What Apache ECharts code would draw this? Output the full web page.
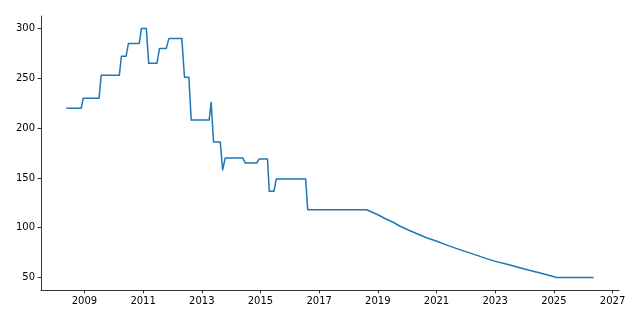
<!DOCTYPE html>
<html>
<head>
<meta charset="utf-8">
<script src="https://cdn.jsdelivr.net/npm/echarts@6/dist/echarts.min.js"></script>
<style>html,body{margin:0;padding:0;background:#fff}#c{width:640px;height:320px}</style>
</head>
<body>
<div id="c"></div>
<script>
// Decimal years and values
var years = [2008.41, 2008.89, 2008.96, 2009.50, 2009.57, 2010.19, 2010.26, 2010.42, 2010.50, 2010.87,
  2010.94, 2011.11, 2011.19, 2011.47, 2011.56, 2011.79, 2011.88, 2012.32, 2012.41, 2012.56,
  2012.64, 2013.25, 2013.32, 2013.40, 2013.63, 2013.71, 2013.80, 2014.40, 2014.48, 2014.88,
  2014.95, 2015.24, 2015.30, 2015.46, 2015.54, 2016.54, 2016.61, 2018.62,
  2019.00, 2019.26, 2019.52, 2019.76, 2020.02, 2020.34, 2020.66, 2021.01, 2021.40, 2021.79,
  2022.10, 2022.41, 2022.70, 2022.98, 2023.50, 2024.06, 2024.60, 2025.10, 2026.33];
var values = [220, 220, 230, 230, 253, 253, 272, 272, 285, 285,
  300, 300, 265, 265, 280, 280, 290, 290, 251, 251,
  208, 208, 226, 186, 186, 158, 170, 170, 165, 165,
  169, 169, 136.5, 136.5, 149, 149, 118, 118,
  113, 109, 105.5, 101.5, 98, 94, 90, 86.5, 82, 78,
  75, 72, 69, 66.5, 62.5, 58, 54, 50, 50];
var xTicks = [2009, 2011, 2013, 2015, 2017, 2019, 2021, 2023, 2025, 2027];
var yTicks = [50, 100, 150, 200, 250, 300];

var pts = years.map(function (y, i) { return [y, values[i]]; });
var font = { fontFamily: 'DejaVu Sans', fontSize: 10, color: '#000' };
var axisLine = { show: true, onZero: false, lineStyle: { color: '#000', width: 0.8 } };

var chart = echarts.init(document.getElementById('c'), null, { renderer: 'canvas' });
chart.setOption({
  animation: false,
  backgroundColor: '#fff',
  grid: { left: 41, right: 21, top: 16, bottom: 30, containLabel: false },
  xAxis: {
    type: 'value', min: 2007.52, max: 2027.22,
    axisLine: axisLine,
    axisTick: { show: true, inside: false, length: 3.5, customValues: xTicks, lineStyle: { color: '#000', width: 0.8 } },
    axisLabel: Object.assign({ customValues: xTicks, margin: 6, formatter: function (v) { return String(v); } }, font),
    splitLine: { show: false }
  },
  yAxis: {
    type: 'value', min: 37.5, max: 312.5,
    axisLine: axisLine,
    axisTick: { show: true, inside: false, length: 3.5, customValues: yTicks, lineStyle: { color: '#000', width: 0.8 } },
    axisLabel: Object.assign({ customValues: yTicks, margin: 6 }, font),
    splitLine: { show: false }
  },
  series: [{
    type: 'line', data: pts, showSymbol: false, symbol: 'none',
    lineStyle: { color: '#1f77b4', width: 1.5, join: 'round', cap: 'square' },
    itemStyle: { color: '#1f77b4' }
  }]
});
</script>
</body>
</html>
